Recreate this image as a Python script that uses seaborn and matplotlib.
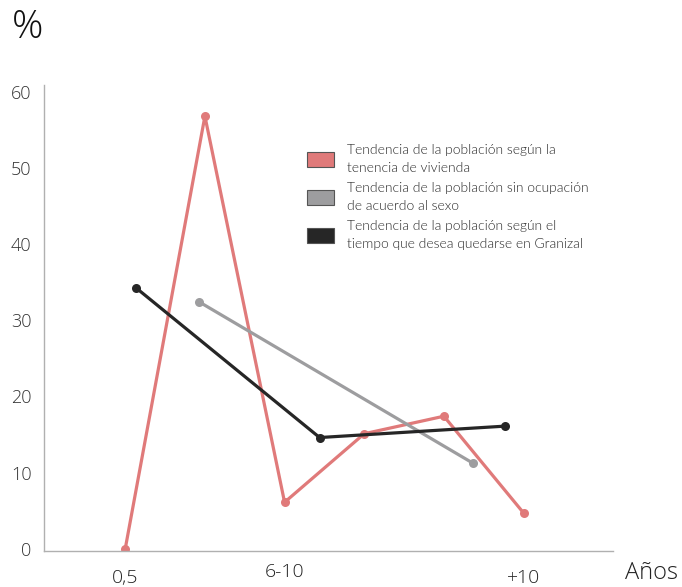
import numpy as np
import pandas as pd
import matplotlib
matplotlib.use("Agg")
import matplotlib.pyplot as plt
import seaborn as sns
from matplotlib.patches import Patch

# x positions on a 0..5 category scale, y in %
vivienda_x = [0, 1, 2, 3, 4, 5]
vivienda_y = [0, 56.8, 6.1, 15.1, 17.4, 4.7]
ocupacion_x = [0.93, 4.37]
ocupacion_y = [32.4, 11.2]
tiempo_x = [0.13, 2.44, 4.77]
tiempo_y = [34.3, 14.6, 16.1]

tick_pos = [0, 2, 5]
tick_labels = ["0,5", "6-10", "+10"]
y_ticks = [0, 10, 20, 30, 40, 50, 60]

legend_labels = [
    "Tendencia de la población según la\ntenencia de vivienda",
    "Tendencia de la población sin ocupación\nde acuerdo al sexo",
    "Tendencia de la población según el\ntiempo que desea quedarse en Granizal",
]
colors = ["#e07a7a", "#9d9d9f", "#262626"]

sns.set_style("white")
plt.rcParams['font.family'] = ['Open Sans', 'DejaVu Sans']

fig = plt.figure(figsize=(6.82, 5.87), dpi=100)
ax = fig.add_axes([0.0645, 0.0613, 0.834, 0.794])

series = [(vivienda_x, vivienda_y), (ocupacion_x, ocupacion_y), (tiempo_x, tiempo_y)]
for (xs, ys), c in zip(series, colors):
    df = pd.DataFrame({"x": xs, "y": ys})
    sns.lineplot(data=df, x="x", y="y", ax=ax, color=c, lw=2.3, marker="o",
                 markersize=6.5, markeredgewidth=0, sort=False)

ax.set_xlim(-1.02, 6.12)
ax.set_ylim(-0.3, 60.9)
ax.set_xlabel("")
ax.set_ylabel("")
ax.set_yticks(y_ticks)
ax.set_yticklabels([str(v) for v in y_ticks], fontsize=13, color="#333333", weight=300)
ax.set_xticks(tick_pos)
ax.set_xticklabels(tick_labels, fontsize=14, color="#222222", weight=300)
ax.tick_params(axis="y", length=0, pad=9)
ax.tick_params(axis="x", length=0, pad=13)
ax.get_xticklabels()[1].set_y(0.013)

for s in ["top", "right"]:
    ax.spines[s].set_visible(False)
for s in ["left", "bottom"]:
    ax.spines[s].set_color("#b0b0b0")
    ax.spines[s].set_linewidth(1)

handles = [Patch(facecolor=c, edgecolor="#555555", linewidth=0.8) for c in colors]
leg = ax.legend(handles, legend_labels, frameon=False, loc="upper left",
                bbox_to_anchor=(294 / 682, 1 - 131 / 587), bbox_transform=fig.transFigure,
                prop={"family": ["Lato", "DejaVu Sans"], "weight": 300, "size": 10},
                handlelength=1.95, handleheight=1.3, handletextpad=1.0, labelspacing=0.55,
                labelcolor="#2a2a2a")
for t in leg.get_texts():
    t.set_linespacing(1.65)

ax.text(1.068, -0.047, "Años", transform=ax.transAxes, ha="center", va="center",
        fontsize=17, color="#222222", weight=300)
fig.text(28 / 682, 1 - 28 / 587, "%", ha="center", va="center", fontsize=28,
         color="#111111", weight=300)

fig.savefig("out.png", dpi=100)
